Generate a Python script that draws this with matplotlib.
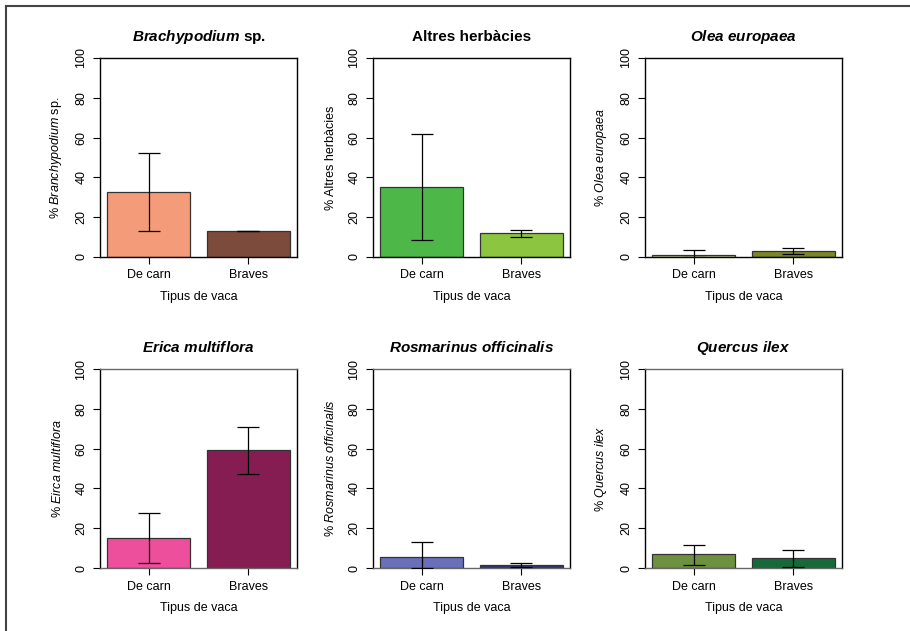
import matplotlib.pyplot as plt
from matplotlib.lines import Line2D

plt.rcParams['font.family'] = ['Liberation Sans', 'DejaVu Sans']
plt.rcParams['mathtext.fontset'] = 'custom'
plt.rcParams['mathtext.it'] = 'Liberation Sans:italic'
plt.rcParams['mathtext.rm'] = 'Liberation Sans'
plt.rcParams['mathtext.bf'] = 'Liberation Sans:bold'
plt.rcParams['mathtext.bfit'] = 'Liberation Sans:italic:bold'

# dades
categories = ["De carn", "Braves"]
titles = [r"$\mathbfit{Brachypodium}$ sp.", "Altres herbàcies", r"$\mathbfit{Olea\ europaea}$",
          r"$\mathbfit{Erica\ multiflora}$", r"$\mathbfit{Rosmarinus\ officinalis}$", r"$\mathbfit{Quercus\ ilex}$"]
ylabels = [r"% $\it{Branchypodium}$ sp.", "% Altres herbàcies", r"% $\it{Olea\ europaea}$",
           r"% $\it{Eirca\ multiflora}$", r"% $\it{Rosmarinus\ officinalis}$", r"% $\it{Quercus\ ilex}$"]
means = [[32.7, 13.0], [35.2, 12.0], [0.8, 2.9],
         [15.0, 59.5], [5.3, 1.4], [6.8, 4.8]]
err_low = [[13.0, 13.0], [8.6, 10.1], [0.0, 1.4],
           [2.3, 47.4], [0.0, 0.5], [1.4, 0.4]]
err_high = [[52.5, 13.0], [61.8, 13.5], [3.4, 4.3],
            [27.6, 71.0], [13.1, 2.4], [11.5, 9.2]]
colors = [["#F49C79", "#7D4B3C"], ["#4DB848", "#8CC540"], ["#CACD97", "#7C8629"],
          ["#EE4F9C", "#861D52"], ["#6A6FB9", "#2E3370"], ["#6E913F", "#17693A"]]

W, H = 910, 631
fig = plt.figure(figsize=(W / 100, H / 100), dpi=100)

col_x = [100, 373, 645]
row_y = [(58, 257), (369, 568)]
ax_w = 197

xpos = [0.7, 1.9]

for i in range(6):
    r, c = divmod(i, 3)
    top, bot = row_y[r]
    ax = fig.add_axes([col_x[c] / W, 1 - bot / H, ax_w / W, (bot - top) / H])
    ax.bar(xpos, means[i], width=1.0, color=colors[i], edgecolor="#333333", linewidth=0.9, zorder=2)
    lo = [m - l for m, l in zip(means[i], err_low[i])]
    hi = [h - m for m, h in zip(means[i], err_high[i])]
    ax.errorbar(xpos, means[i], yerr=[lo, hi], fmt="none", ecolor="black",
                elinewidth=0.9, capsize=8, capthick=0.9, zorder=3)
    ax.set_xlim(0.112, 2.488)
    ax.set_ylim(0, 100)
    ax.set_yticks([0, 20, 40, 60, 80, 100])
    ax.set_yticklabels(["0", "20", "40", "60", "80", "100"], rotation=90, va="center", fontsize=9)
    ax.set_xticks(xpos)
    ax.set_xticklabels(categories, fontsize=9)
    ax.tick_params(length=5, width=0.8, pad=4)
    for s in ax.spines.values():
        s.set_linewidth(1.0)
        s.set_color("black")
    if r == 1:
        ax.spines["top"].set_color("#666666")
        ax.spines["bottom"].set_color("#666666")
    ax.set_xlabel("Tipus de vaca", fontsize=9, labelpad=7)
    ax.set_ylabel(ylabels[i], fontsize=9, labelpad=8)
    ax.set_title(titles[i], fontsize=11, fontweight="bold", pad=12)

# marc exterior
fig.add_artist(Line2D([6 / W, 1], [1 - 6 / H, 1 - 6 / H], color="#444444", linewidth=1.5))
fig.add_artist(Line2D([6 / W, 6 / W], [0, 1 - 6 / H], color="#444444", linewidth=1.5))

plt.savefig("out.png", dpi=100)
